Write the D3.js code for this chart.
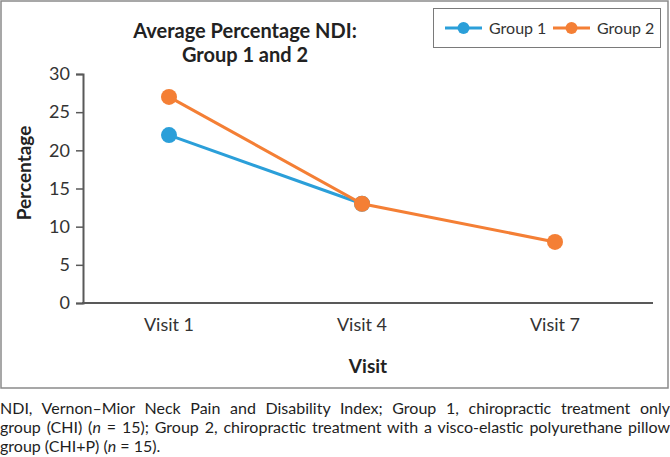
<!DOCTYPE html>
<html>
<head>
<meta charset="utf-8">
<script src="https://d3js.org/d3.v7.min.js"></script>
<style>
  html, body { margin: 0; padding: 0; background: #fff; }
  body { width: 670px; height: 457px; overflow: hidden; font-family: Lato, "Open Sans", sans-serif; }
  .caption { position: absolute; left: 0; top: 398px; width: 670px; font-size: 16px; color: #1e1e1e; line-height: 19px; }
  .caption div { text-align: justify; text-align-last: justify; white-space: nowrap; }
  .caption div.last { text-align-last: left; }
</style>
</head>
<body>
<svg width="670" height="395"></svg>
<div class="caption">
  <div>NDI, Vernon–Mior Neck Pain and Disability Index; Group 1, chiropractic treatment only</div>
  <div>group (CHI) (<i>n</i> = 15); Group 2, chiropractic treatment with a visco-elastic polyurethane pillow</div>
  <div class="last">group (CHI+P) (<i>n</i> = 15).</div>
</div>
<script>
var visits = ["Visit 1", "Visit 4", "Visit 7"];
var group1 = [22, 13, null];
var group2 = [27, 13, 8];
var yTicks = [0, 5, 10, 15, 20, 25, 30];
var seriesNames = ["Group 1", "Group 2"];
var colors = ["#2b9fd9", "#f47f35"];

var svg = d3.select("svg");

// outer frame
svg.append("rect")
  .attr("x", 1).attr("y", 1).attr("width", 667).attr("height", 387)
  .attr("fill", "none").attr("stroke", "#8a8a8a").attr("stroke-width", 1.5);

var x = d3.scalePoint().domain(visits).range([169, 555]);
var y = d3.scaleLinear().domain([0, 30]).range([303, 74]);
var axisLeft = 83, axisRight = 653;

// y axis
var yAxis = svg.append("g")
  .attr("transform", "translate(" + axisLeft + ",0)")
  .call(d3.axisLeft(y).tickValues(yTicks).tickSize(7).tickPadding(6));
yAxis.select(".domain").attr("stroke", "#595959").attr("stroke-width", 2);
yAxis.selectAll(".tick line").attr("stroke", "#595959").attr("stroke-width", 1.5);
yAxis.selectAll(".tick text")
  .attr("font-family", "Lato, sans-serif").attr("font-size", 18).attr("fill", "#333");

// x axis
svg.append("line")
  .attr("x1", axisLeft - 1).attr("x2", axisRight)
  .attr("y1", y(0)).attr("y2", y(0))
  .attr("stroke", "#595959").attr("stroke-width", 2);

svg.append("g").selectAll("text")
  .data(visits)
  .enter().append("text")
    .attr("x", function(d) { return x(d); })
    .attr("y", 331)
    .attr("text-anchor", "middle")
    .attr("font-family", "Lato, sans-serif")
    .attr("font-size", 18)
    .attr("fill", "#333")
    .text(function(d) { return d; });

// axis titles
svg.append("text")
  .attr("x", (axisLeft + axisRight) / 2).attr("y", 373)
  .attr("text-anchor", "middle")
  .attr("font-family", "Lato, sans-serif").attr("font-weight", "bold")
  .attr("font-size", 19).attr("fill", "#222")
  .text("Visit");

svg.append("text")
  .attr("transform", "translate(31,173) rotate(-90)")
  .attr("text-anchor", "middle")
  .attr("font-family", "Lato, sans-serif").attr("font-weight", "bold")
  .attr("font-size", 19).attr("fill", "#222")
  .text("Percentage");

// title
var title = svg.append("text")
  .attr("text-anchor", "middle")
  .attr("font-family", "Lato, sans-serif").attr("font-weight", "bold")
  .attr("font-size", 20).attr("fill", "#222");
title.append("tspan").attr("x", 245).attr("y", 38).text("Average Percentage NDI:");
title.append("tspan").attr("x", 245).attr("y", 62).text("Group 1 and 2");

// series
var series = [group1, group2].map(function(vals, i) {
  return {
    name: seriesNames[i],
    color: colors[i],
    points: visits.map(function(v, j) { return {visit: v, value: vals[j]}; })
      .filter(function(p) { return p.value != null; })
  };
});

var line = d3.line()
  .x(function(d) { return x(d.visit); })
  .y(function(d) { return y(d.value); });

var sg = svg.selectAll(".series")
  .data(series)
  .enter().append("g").attr("class", "series");

sg.append("path")
  .attr("d", function(d) { return line(d.points); })
  .attr("fill", "none")
  .attr("stroke", function(d) { return d.color; })
  .attr("stroke-width", 3);

sg.selectAll("circle")
  .data(function(d) { return d.points.map(function(p) { return {p: p, color: d.color}; }); })
  .enter().append("circle")
    .attr("cx", function(d) { return x(d.p.visit); })
    .attr("cy", function(d) { return y(d.p.value); })
    .attr("r", 8)
    .attr("fill", function(d) { return d.color; });

// legend
var legend = svg.append("g");
legend.append("rect")
  .attr("x", 433.5).attr("y", 8.5).attr("width", 227).attr("height", 39)
  .attr("fill", "#fff").attr("stroke", "#7a7a7a").attr("stroke-width", 1);

var li = legend.selectAll(".item")
  .data(series)
  .enter().append("g")
    .attr("transform", function(d, i) { return "translate(" + (445 + i * 108) + ",28)"; });
li.append("line")
  .attr("x1", 0).attr("x2", 37).attr("y1", 0).attr("y2", 0)
  .attr("stroke", function(d) { return d.color; }).attr("stroke-width", 3);
li.append("circle")
  .attr("cx", 18.5).attr("cy", 0).attr("r", 6)
  .attr("fill", function(d) { return d.color; });
li.append("text")
  .attr("x", 44).attr("y", 5.5)
  .attr("font-family", "Lato, sans-serif").attr("font-size", 16).attr("fill", "#333")
  .text(function(d) { return d.name; });
</script>
</body>
</html>
